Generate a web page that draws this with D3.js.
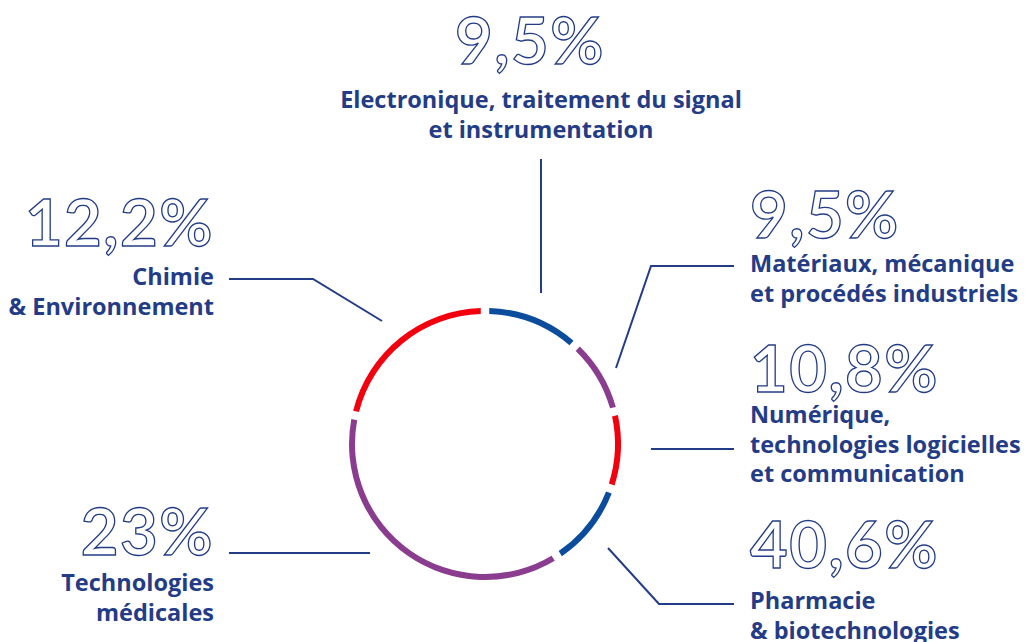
<!DOCTYPE html>
<html>
<head>
<meta charset="utf-8">
<script src="https://cdn.jsdelivr.net/npm/d3@7/dist/d3.min.js"></script>
<style>
  body { margin: 0; background: #fff; }
  svg { display: block; }
  .pct { font-family: "Lato", sans-serif; font-weight: 700; fill: #fff; stroke: #233c85; stroke-width: 1.3px; letter-spacing: 1.5px; }
  .lbl { font-family: "Open Sans", sans-serif; font-weight: 700; fill: #233c85; }
</style>
</head>
<body>
<div id="chart"></div>
<script>
// ring order, clockwise from 12 o'clock
var sectors = ["Chimie & Environnement", "Electronique", "Matériaux", "Numérique", "Pharmacie", "Technologies médicales"];
var shares = [12.2, 9.5, 9.5, 10.8, 40.6, 23];
var ringColors = ["#0b4c9d", "#8a3c8e", "#f3000f", "#0b4c9d", "#8a3c8e", "#f3000f"];

// labels as printed
var pctText = ["12,2%", "9,5%", "9,5%", "10,8%", "40,6%", "23%"];
var labelLines = [
  ["Chimie", "& Environnement"],
  ["Electronique, traitement du signal", "et instrumentation"],
  ["Matériaux, mécanique", "et procédés industriels"],
  ["Numérique,", "technologies logicielles", "et communication"],
  ["Pharmacie", "& biotechnologies"],
  ["Technologies", "médicales"]
];

// annotation layout: text anchor, first label baseline, leader polyline
var layout = [
  { x: 214, pctX: 214, anchor: "end", pctY: 246, lblY: 285, leader: [[229, 279], [313, 279], [382, 321]] },
  { x: 541, pctX: 530, anchor: "middle", pctY: 64, lblY: 108, leader: [[541, 159], [541, 293]] },
  { x: 750, pctX: 750, anchor: "start", pctY: 238, lblY: 272, leader: [[734, 266], [651, 266], [616, 368]] },
  { x: 750, pctX: 750, anchor: "start", pctY: 392, lblY: 423, leader: [[734, 449], [651, 449]] },
  { x: 750, pctX: 750, anchor: "start", pctY: 568, lblY: 609, leader: [[608, 548], [659, 604], [734, 604]] },
  { x: 214, pctX: 214, anchor: "end", pctY: 555, lblY: 591, leader: [[229, 553], [370, 553]] }
];

var width = 1027, height = 642;
var cx = 485, cy = 444;

var svg = d3.select("#chart").append("svg")
  .attr("width", width)
  .attr("height", height);

var pie = d3.pie().sort(null).padAngle(0.045).value(function(d) { return d; });
var arc = d3.arc().innerRadius(130).outerRadius(136);

svg.append("g")
  .attr("transform", "translate(" + cx + "," + cy + ")")
  .selectAll("path")
  .data(pie(shares))
  .enter().append("path")
  .attr("d", arc)
  .attr("fill", function(d, i) { return ringColors[i]; });

var line = d3.line();

var notes = svg.selectAll(".note")
  .data(sectors)
  .enter().append("g")
  .attr("class", "note");

notes.append("path")
  .attr("d", function(d, i) { return line(layout[i].leader); })
  .attr("fill", "none")
  .attr("stroke", "#233c85")
  .attr("stroke-width", 2);

notes.append("text")
  .attr("class", "pct")
  .attr("x", function(d, i) { return layout[i].pctX; })
  .attr("y", function(d, i) { return layout[i].pctY; })
  .attr("text-anchor", function(d, i) { return layout[i].anchor; })
  .style("font-size", "65px")
  .text(function(d, i) { return pctText[i]; });

notes.each(function(d, i) {
  var t = d3.select(this).append("text")
    .attr("class", "lbl")
    .attr("text-anchor", layout[i].anchor)
    .style("font-size", "23.5px");
  labelLines[i].forEach(function(s, k) {
    t.append("tspan")
      .attr("x", layout[i].x)
      .attr("y", layout[i].lblY + k * 29.5)
      .text(s);
  });
});
</script>
</body>
</html>
